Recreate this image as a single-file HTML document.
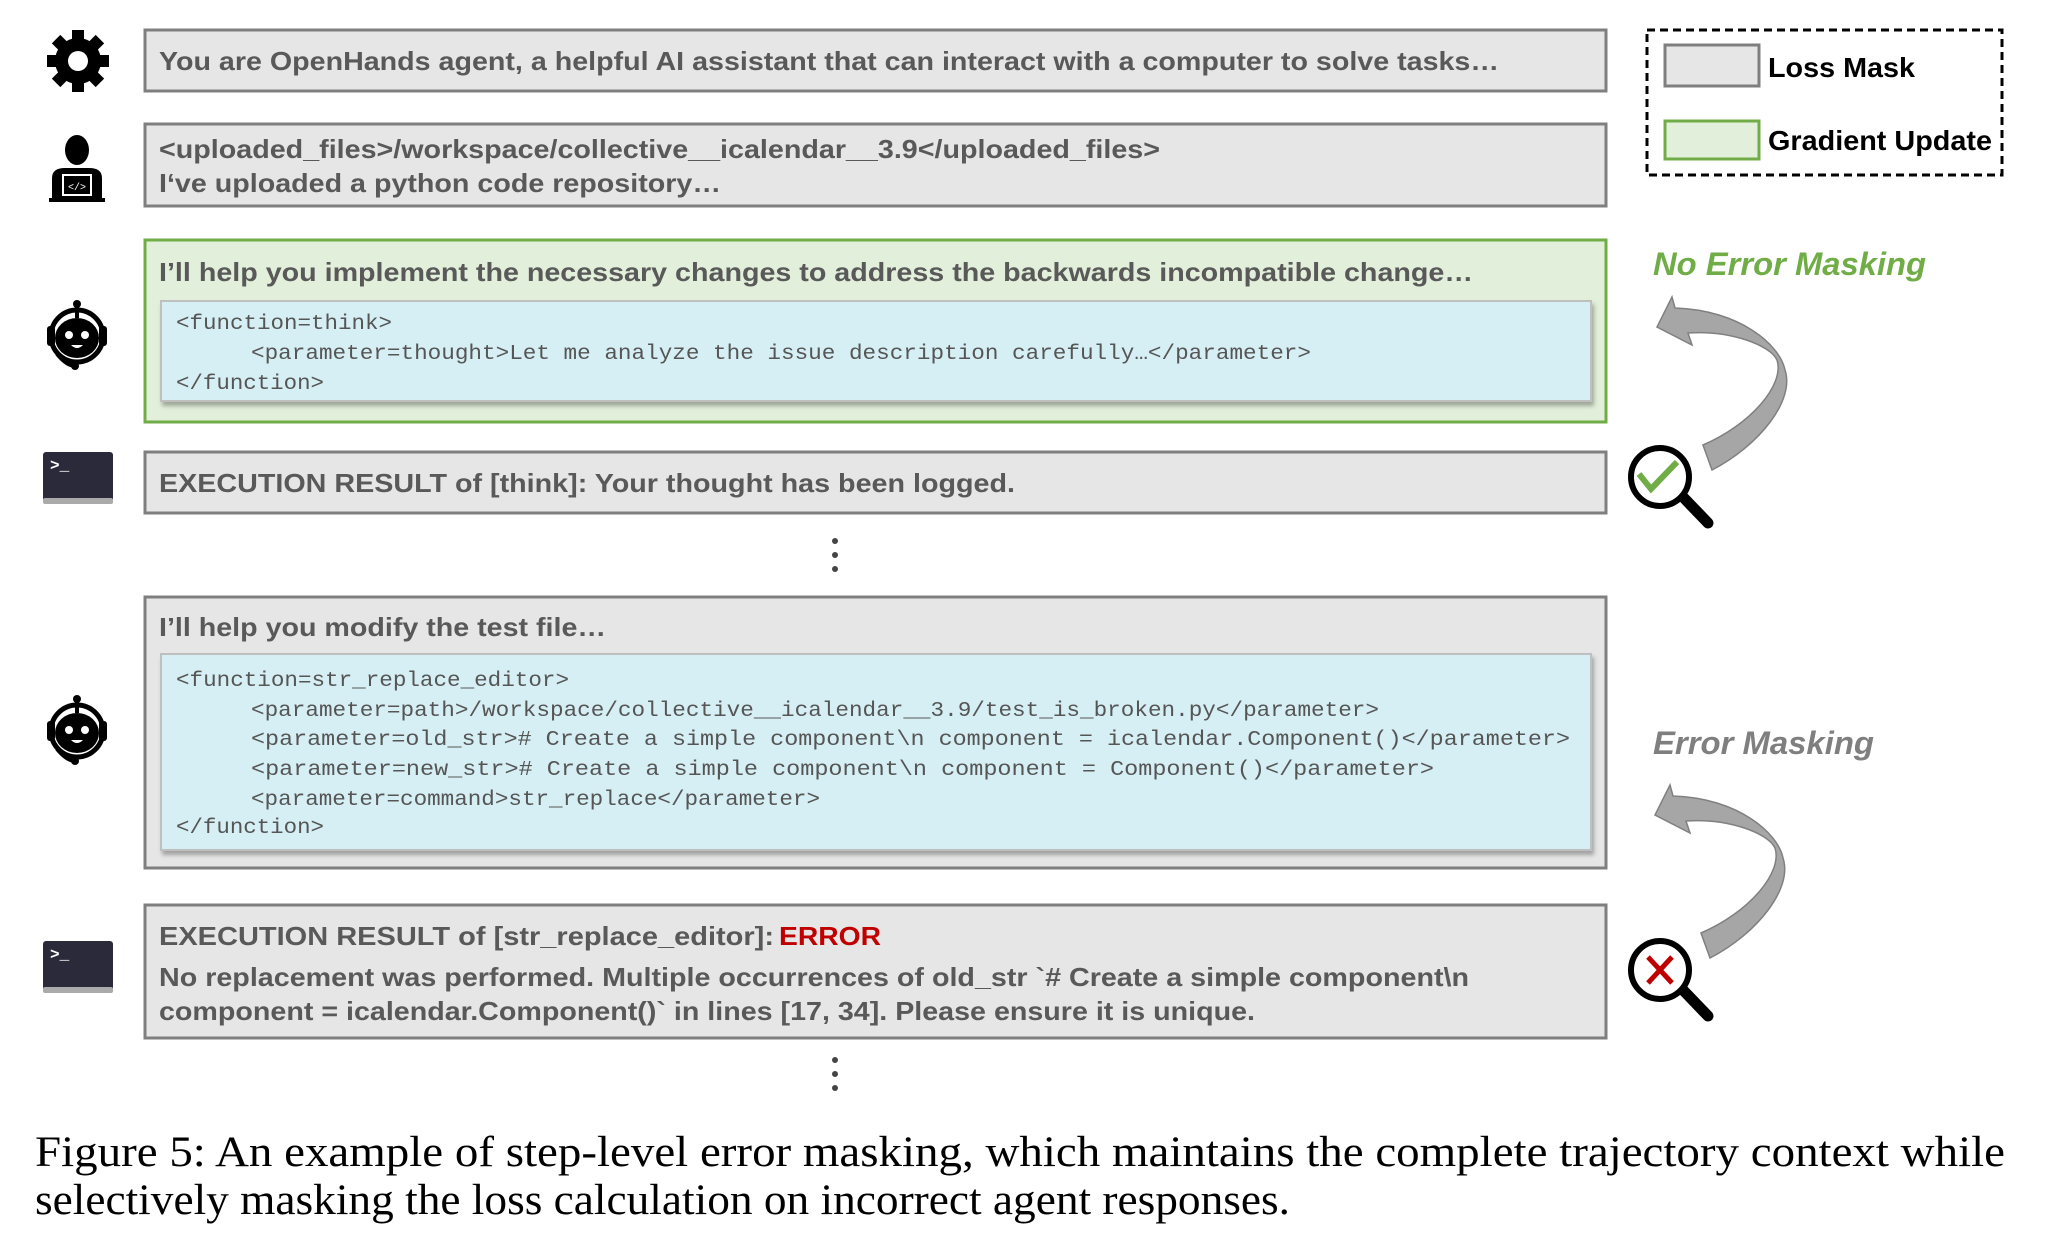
<!DOCTYPE html>
<html><head><meta charset="utf-8"><style>html,body{margin:0;padding:0;background:#fff}svg{display:block}</style></head>
<body>
<svg width="2048" height="1240" viewBox="0 0 2048 1240" xmlns="http://www.w3.org/2000/svg">
<defs>
<filter id="sh" x="-5%" y="-5%" width="110%" height="120%"><feDropShadow dx="2" dy="4" stdDeviation="2" flood-color="#000" flood-opacity="0.3"/></filter>
<g id="robot">
<circle cx="0" cy="0" r="26" fill="none" stroke="#000" stroke-width="5"/>
<rect x="-30" y="-10" width="8" height="20" rx="3" fill="#000"/>
<rect x="22" y="-10" width="8" height="20" rx="3" fill="#000"/>
<ellipse cx="0" cy="2" rx="22" ry="20" fill="#000"/>
<line x1="0" y1="-18" x2="0" y2="-30" stroke="#000" stroke-width="4"/>
<circle cx="0" cy="-32" r="4" fill="#000"/>
<circle cx="-8" cy="-1" r="4" fill="#fff"/><circle cx="8" cy="-1" r="4" fill="#fff"/>
<path d="M-6,9 Q0,15 6,9" fill="#fff"/>
<path d="M-20,18 Q-10,30 -2,30" fill="none" stroke="#000" stroke-width="4"/>
<circle cx="-2" cy="30" r="4" fill="#000"/>
</g>
<g id="term">
<rect x="-35" y="-26" width="70" height="50" rx="3" fill="#2a2a3a"/>
<rect x="-35" y="20" width="70" height="6" rx="2" fill="#aaa"/>
<text x="-28" y="-8" font-family="Liberation Mono, monospace" font-size="16" fill="#fff" font-weight="bold">&gt;_</text>
</g>
<path id="arr" d="M1712,470 C1760,445 1795,400 1785,370 C1780,345 1740,310 1675,308 L1672,297 L1657,327 L1692,345 L1688,333 C1730,330 1770,345 1777,360 C1785,385 1750,425 1703,445 Z"/>
</defs>

<g transform="translate(78,61)">
<circle r="23" fill="#000"/>
<g fill="#000"><rect x="-6" y="-31" width="12" height="12"/><rect x="-6" y="19" width="12" height="12"/><rect x="-31" y="-6" width="12" height="12"/><rect x="19" y="-6" width="12" height="12"/>
<rect x="-6" y="-31" width="12" height="12" transform="rotate(45)"/><rect x="-6" y="19" width="12" height="12" transform="rotate(45)"/><rect x="-31" y="-6" width="12" height="12" transform="rotate(45)"/><rect x="19" y="-6" width="12" height="12" transform="rotate(45)"/></g>
<circle r="10" fill="#fff"/>
</g>
<g transform="translate(77,170)">
<ellipse cx="0" cy="-20" rx="12" ry="15" fill="#000"/>
<path d="M-25,30 L-25,8 Q-25,-2 -12,-2 L12,-2 Q25,-2 25,8 L25,30 Z" fill="#000"/>
<rect x="-14" y="5" width="28" height="20" fill="#000" stroke="#fff" stroke-width="2"/>
<text x="0" y="20" font-family="Liberation Mono,monospace" font-size="10" fill="#fff" text-anchor="middle">&lt;/&gt;</text>
<rect x="-28" y="28" width="56" height="4" fill="#000"/>
</g>
<use href="#robot" transform="translate(77,336)"/>
<use href="#robot" transform="translate(77,731)"/>
<use href="#term" transform="translate(78,478)"/>
<use href="#term" transform="translate(78,967)"/>

<g font-family="Liberation Sans, Arial, sans-serif" font-weight="bold" fill="#595959" font-size="26">
<rect x="145" y="30" width="1461" height="61" fill="#e6e6e6" stroke="#7f7f7f" stroke-width="3"/>
<text x="159" y="70" textLength="1340" lengthAdjust="spacingAndGlyphs">You are OpenHands agent, a helpful AI assistant that can interact with a computer to solve tasks…</text>
<rect x="145" y="124" width="1461" height="82" fill="#e6e6e6" stroke="#7f7f7f" stroke-width="3"/>
<text x="159" y="158" textLength="1001" lengthAdjust="spacingAndGlyphs">&lt;uploaded_files&gt;/workspace/collective__icalendar__3.9&lt;/uploaded_files&gt;</text>
<text x="159" y="192" textLength="562" lengthAdjust="spacingAndGlyphs">I‘ve uploaded a python code repository…</text>
<rect x="145" y="240" width="1461" height="182" fill="#e2efda" stroke="#70ad47" stroke-width="3"/>
<text x="159" y="281" textLength="1314" lengthAdjust="spacingAndGlyphs">I’ll help you implement the necessary changes to address the backwards incompatible change…</text>
<rect x="161" y="301" width="1430" height="100" fill="#d6eff4" stroke="#bfbfbf" stroke-width="2" filter="url(#sh)"/>
<rect x="145" y="452" width="1461" height="61" fill="#e6e6e6" stroke="#7f7f7f" stroke-width="3"/>
<text x="159" y="492" textLength="856" lengthAdjust="spacingAndGlyphs">EXECUTION RESULT of [think]: Your thought has been logged.</text>
<rect x="145" y="597" width="1461" height="271" fill="#e6e6e6" stroke="#7f7f7f" stroke-width="3"/>
<text x="159" y="636" textLength="447" lengthAdjust="spacingAndGlyphs">I’ll help you modify the test file…</text>
<rect x="161" y="654" width="1430" height="196" fill="#d6eff4" stroke="#bfbfbf" stroke-width="2" filter="url(#sh)"/>
<rect x="145" y="905" width="1461" height="133" fill="#e6e6e6" stroke="#7f7f7f" stroke-width="3"/>
<text x="159" y="945" textLength="615" lengthAdjust="spacingAndGlyphs">EXECUTION RESULT of [str_replace_editor]:</text>
<text x="779" y="945" fill="#c00000" textLength="102" lengthAdjust="spacingAndGlyphs">ERROR</text>
<text x="159" y="986" textLength="1310" lengthAdjust="spacingAndGlyphs">No replacement was performed. Multiple occurrences of old_str `# Create a simple component\n</text>
<text x="159" y="1020" textLength="1096" lengthAdjust="spacingAndGlyphs">component = icalendar.Component()` in lines [17, 34]. Please ensure it is unique.</text>
</g>

<g font-family="Liberation Mono, DejaVu Sans Mono, monospace" font-size="21" fill="#555" xml:space="preserve">
<text x="176" y="329" textLength="216" lengthAdjust="spacingAndGlyphs">&lt;function=think&gt;</text>
<text x="251" y="359" textLength="1060" lengthAdjust="spacingAndGlyphs">&lt;parameter=thought&gt;Let me analyze the issue description carefully…&lt;/parameter&gt;</text>
<text x="176" y="389" textLength="148" lengthAdjust="spacingAndGlyphs">&lt;/function&gt;</text>
<text x="176" y="686" textLength="393" lengthAdjust="spacingAndGlyphs">&lt;function=str_replace_editor&gt;</text>
<text x="251" y="716" textLength="1128" lengthAdjust="spacingAndGlyphs">&lt;parameter=path&gt;/workspace/collective__icalendar__3.9/test_is_broken.py&lt;/parameter&gt;</text>
<text x="251" y="745" textLength="1319" lengthAdjust="spacingAndGlyphs">&lt;parameter=old_str&gt;# Create a simple component\n    component = icalendar.Component()&lt;/parameter&gt;</text>
<text x="251" y="775" textLength="1183" lengthAdjust="spacingAndGlyphs">&lt;parameter=new_str&gt;# Create a simple component\n    component = Component()&lt;/parameter&gt;</text>
<text x="251" y="805" textLength="569" lengthAdjust="spacingAndGlyphs">&lt;parameter=command&gt;str_replace&lt;/parameter&gt;</text>
<text x="176" y="833" textLength="148" lengthAdjust="spacingAndGlyphs">&lt;/function&gt;</text>
</g>

<g fill="#444"><circle cx="835" cy="541" r="3"/><circle cx="835" cy="555" r="3"/><circle cx="835" cy="569" r="3"/>
<circle cx="835" cy="1060" r="3"/><circle cx="835" cy="1074" r="3"/><circle cx="835" cy="1088" r="3"/></g>

<rect x="1647" y="30" width="355" height="145" fill="none" stroke="#000" stroke-width="3" stroke-dasharray="8,5"/>
<rect x="1665" y="45" width="94" height="41" fill="#e6e6e6" stroke="#7f7f7f" stroke-width="3"/>
<rect x="1665" y="121" width="94" height="38" fill="#e2efda" stroke="#70ad47" stroke-width="3"/>
<g font-family="Liberation Sans, Arial, sans-serif" font-weight="bold" font-size="28" fill="#000">
<text x="1768" y="77" textLength="147" lengthAdjust="spacingAndGlyphs">Loss Mask</text>
<text x="1768" y="150" textLength="224" lengthAdjust="spacingAndGlyphs">Gradient Update</text>
</g>
<g font-family="Liberation Sans, Arial, sans-serif" font-weight="bold" font-style="italic" font-size="32">
<text x="1653" y="275" fill="#70ad47" textLength="273" lengthAdjust="spacingAndGlyphs">No Error Masking</text>
<text x="1653" y="754" fill="#7f7f7f" textLength="221" lengthAdjust="spacingAndGlyphs">Error Masking</text>
</g>

<use href="#arr" fill="#a6a6a6" stroke="#808080" stroke-width="1.5"/>
<use href="#arr" fill="#a6a6a6" stroke="#808080" stroke-width="1.5" transform="translate(-2,488)"/>

<g>
<line x1="1683" y1="497" x2="1708" y2="523" stroke="#000" stroke-width="11" stroke-linecap="round"/>
<circle cx="1660" cy="477" r="29" fill="#fff" stroke="#000" stroke-width="6"/>
<path d="M1639,474 L1651,489 L1677,462" fill="none" stroke="#70ad47" stroke-width="6"/>
</g>
<g>
<line x1="1683" y1="990" x2="1708" y2="1016" stroke="#000" stroke-width="11" stroke-linecap="round"/>
<circle cx="1660" cy="970" r="29" fill="#fff" stroke="#000" stroke-width="6"/>
<path d="M1648,957 L1672,983 M1672,957 L1648,983" fill="none" stroke="#c00000" stroke-width="5"/>
</g>

<g font-family="Liberation Serif, Times New Roman, serif" font-size="43" fill="#000">
<text x="35" y="1166" textLength="1970" lengthAdjust="spacingAndGlyphs">Figure 5:  An example of step-level error masking, which maintains the complete trajectory context while</text>
<text x="35" y="1214" textLength="1255" lengthAdjust="spacingAndGlyphs">selectively masking the loss calculation on incorrect agent responses.</text>
</g>
</svg>
</body></html>
